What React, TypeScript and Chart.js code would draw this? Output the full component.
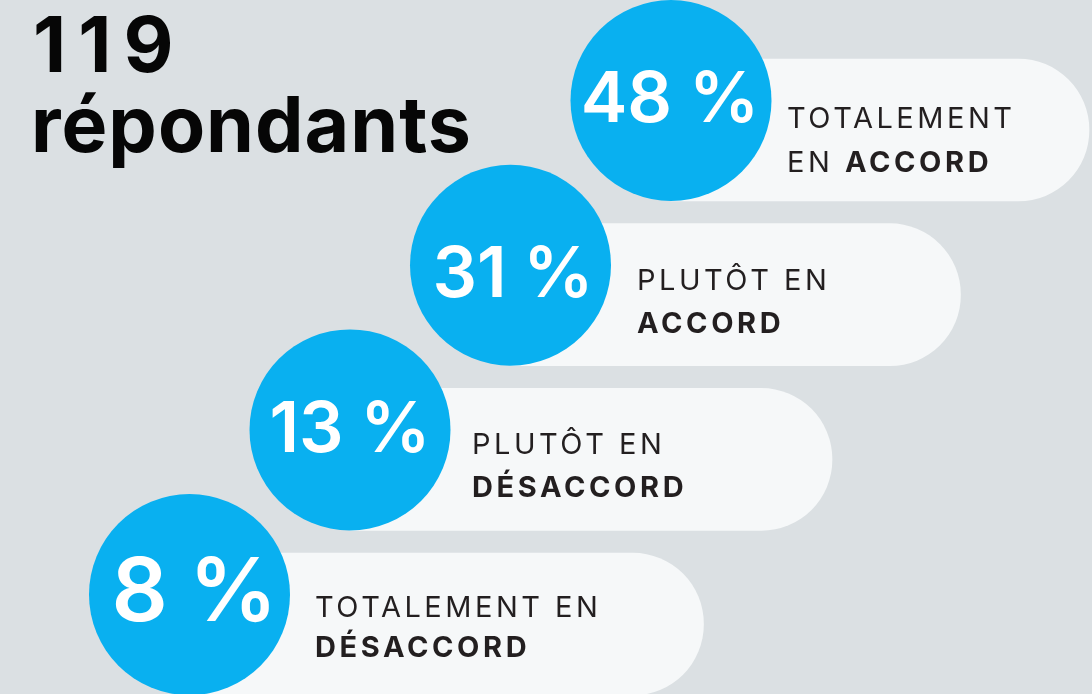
import React, { useEffect, useRef } from "react";
import { Chart, registerables } from "chart.js";

Chart.register(...registerables);

// ---- data ----
const TITLE_LINES = ["119", "répondants"];
const PERCENTAGES = [48, 31, 13, 8];
const LABEL_LINE1 = ["TOTALEMENT", "PLUTÔT EN", "PLUTÔT EN", "TOTALEMENT EN"];
const LABEL_LINE2_PREFIX = ["EN ", "", "", ""];
const LABEL_LINE2_BOLD = ["ACCORD", "ACCORD", "DÉSACCORD", "DÉSACCORD"];

// ---- layout (pixel-unit axes) ----
const W = 1092;
const H = 694;
const ROW_Y0 = 100.5;
const ROW_DY = 164.7;
const CIRCLE_X0 = 671;
const CIRCLE_DX = 160.5;
const PILL_END0 = 1089;
const PILL_DX = 128.5;
const RADIUS = 100.5;
const PILL_H = 142;
const PILL_OFFSET = 29.5;

// text offsets relative to each circle centre
const LABEL_DX = [116, 126.5, 122, 125.5];
const LABEL_DY1 = [27.5, 24.8, 24.1, 22.4];
const LABEL_DY2 = [71.5, 67.8, 67.1, 62.4];
const PCT_DY = [21.5, 31.8, 22.1, 26.4];
const PCT_DX = [-1, 2.5, 0, 5];

const BG = "#dbe0e3";
const PILL = "#f6f8f9";
const BLUE = "#09b0f0";
const DARK = "#231f20";

const rowY = (i: number) => ROW_Y0 + i * ROW_DY;
const circleX = (i: number) => CIRCLE_X0 - i * CIRCLE_DX;
const pillEnd = (i: number) => PILL_END0 - i * PILL_DX;

const textPlugin = {
  id: "infoText",
  afterDatasetsDraw(chart: any) {
    const ctx = chart.ctx as CanvasRenderingContext2D;
    const xs = chart.scales.x;
    const ys = chart.scales.y;
    ctx.save();
    ctx.textBaseline = "alphabetic";

    // title
    ctx.fillStyle = "#060606";
    ctx.textAlign = "left";
    ctx.font = "700 77px Inter";
    (ctx as any).letterSpacing = "12px";
    ctx.fillText(TITLE_LINES[0], 33, 72);
    (ctx as any).letterSpacing = "1px";
    ctx.fillText(TITLE_LINES[1], 31, 152);

    PERCENTAGES.forEach((p, i) => {
      const cx = xs.getPixelForValue(circleX(i));
      const cy = ys.getPixelForValue(rowY(i));

      // percentage: number + gap + "%"
      const size = p < 10 ? 88 : 70;
      ctx.fillStyle = "#ffffff";
      ctx.textAlign = "left";
      ctx.font = `600 ${size}px Inter`;
      (ctx as any).letterSpacing = "0px";
      const num = String(p);
      const wNum = ctx.measureText(num).width;
      const wPct = ctx.measureText("%").width;
      const gap = size * 0.24;
      const total = wNum + gap + wPct;
      const x0 = cx + PCT_DX[i] - total / 2;
      ctx.fillText(num, x0, cy + PCT_DY[i]);
      ctx.fillText("%", x0 + wNum + gap, cy + PCT_DY[i]);

      // labels
      const lx = cx + LABEL_DX[i];
      ctx.fillStyle = DARK;
      ctx.font = "400 29px Inter";
      (ctx as any).letterSpacing = "3.5px";
      ctx.fillText(LABEL_LINE1[i], lx, cy + LABEL_DY1[i]);
      let x2 = lx;
      if (LABEL_LINE2_PREFIX[i]) {
        ctx.fillText(LABEL_LINE2_PREFIX[i], x2, cy + LABEL_DY2[i]);
        x2 += ctx.measureText(LABEL_LINE2_PREFIX[i]).width;
      }
      ctx.font = "700 29px Inter";
      (ctx as any).letterSpacing = "3.6px";
      ctx.fillText(LABEL_LINE2_BOLD[i], x2, cy + LABEL_DY2[i]);
    });
    ctx.restore();
  },
};

export default function App() {
  const ref = useRef<HTMLCanvasElement>(null);

  useEffect(() => {
    if (!ref.current) return;
    const chart = new Chart(ref.current, {
      type: "bar",
      data: {
        datasets: [
          {
            type: "scatter",
            label: "circles",
            data: PERCENTAGES.map((_, i) => ({ x: circleX(i), y: rowY(i) })),
            pointRadius: RADIUS,
            pointHoverRadius: RADIUS,
            pointBackgroundColor: BLUE,
            pointBorderWidth: 0,
            borderWidth: 0,
            order: 0,
          } as any,
          {
            type: "bar",
            label: "pills",
            indexAxis: "y",
            data: PERCENTAGES.map((_, i) => ({
              x: [circleX(i), pillEnd(i)],
              y: rowY(i) + PILL_OFFSET,
            })),
            backgroundColor: PILL,
            borderWidth: 0,
            borderRadius: PILL_H / 2,
            borderSkipped: "left",
            barThickness: PILL_H,
            order: 1,
          } as any,
        ],
      },
      options: {
        responsive: false,
        animation: false,
        events: [],
        layout: { padding: 0, autoPadding: false },
        plugins: { legend: { display: false }, tooltip: { enabled: false } },
        scales: {
          x: { type: "linear", min: 0, max: W, display: false, offset: false },
          y: { type: "linear", min: 0, max: H, reverse: true, display: false, offset: false },
        },
      } as any,
      plugins: [textPlugin],
    });
    return () => chart.destroy();
  }, []);

  return (
    <div
      style={{
        position: "fixed",
        left: 0,
        top: 0,
        width: W,
        height: H,
        background: BG,
        overflow: "hidden",
      }}
    >
      <canvas ref={ref} width={W} height={H} style={{ display: "block" }} />
    </div>
  );
}
